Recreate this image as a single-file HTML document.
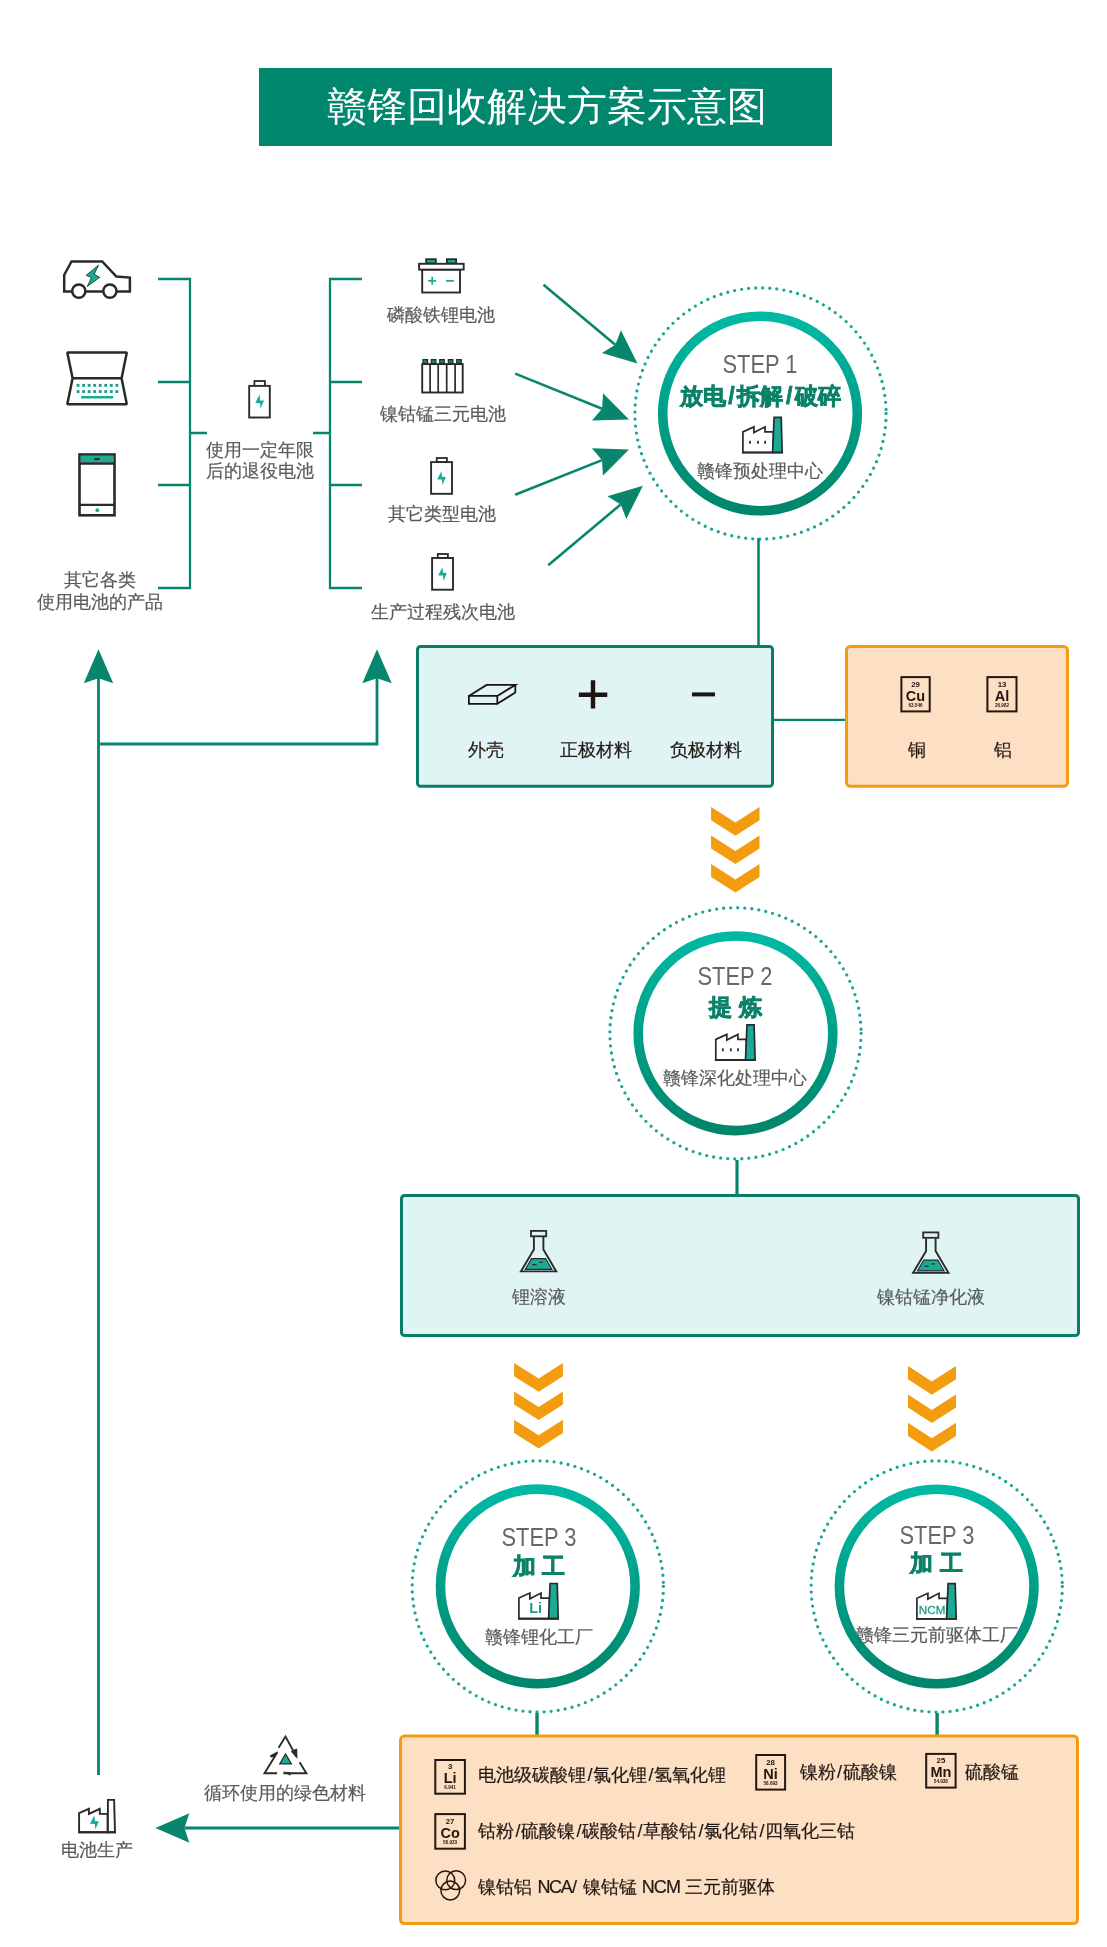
<!DOCTYPE html>
<html><head><meta charset="utf-8"><style>
html,body{margin:0;padding:0;background:#fff;}
#c{position:relative;width:1107px;height:1947px;overflow:hidden;background:#fff;font-family:"Liberation Sans",sans-serif;}
#c svg{position:absolute;left:0;top:0;}
.t{position:absolute;white-space:nowrap;}
#tx{position:absolute;left:0;top:0;width:1107px;height:1947px;will-change:transform;}
</style></head><body><div id="c">
<svg width="1107" height="1947" viewBox="0 0 1107 1947">
<rect x="259" y="68" width="573" height="78" fill="#00876d"/>
<path d="M158,279 H190 V588 H158 M190,382 H158 M190,485 H158 M190,433 H207" fill="none" stroke="#07866d" stroke-width="2.3"/>
<path d="M362,279 H330 V588 H362 M330,382 H362 M330,485 H362 M330,433 H313" fill="none" stroke="#07866d" stroke-width="2.3"/>
<line x1="543.5" y1="284.7" x2="615.26" y2="344.78" stroke="#07866d" stroke-width="2.6"/>
<path d="M637.50,363.40 L601.96,352.88 L615.26,344.78 L620.90,330.26 Z" fill="#07866d"/>
<line x1="515.2" y1="373.6" x2="602.11" y2="408.73" stroke="#07866d" stroke-width="2.6"/>
<path d="M629.00,419.60 L591.95,420.53 L602.11,408.73 L603.01,393.18 Z" fill="#07866d"/>
<line x1="515.2" y1="494.8" x2="602.06" y2="460.15" stroke="#07866d" stroke-width="2.6"/>
<path d="M629.00,449.40 L602.89,475.70 L602.06,460.15 L591.95,448.30 Z" fill="#07866d"/>
<line x1="548.2" y1="565.3" x2="620.69" y2="504.45" stroke="#07866d" stroke-width="2.6"/>
<path d="M642.90,485.80 L626.34,518.96 L620.69,504.45 L607.38,496.36 Z" fill="#07866d"/>
<path d="M98.5,1775 V675 M98.5,744 H377 V675" fill="none" stroke="#07866d" stroke-width="2.8"/>
<path d="M98.50,649.20 L113.25,683.20 L98.50,678.20 L83.75,683.20 Z" fill="#07866d"/>
<path d="M377.00,649.20 L391.75,683.20 L377.00,678.20 L362.25,683.20 Z" fill="#07866d"/>
<line x1="399" y1="1828" x2="184.40" y2="1828.00" stroke="#07866d" stroke-width="3"/>
<path d="M155.40,1828.00 L189.40,1813.25 L184.40,1828.00 L189.40,1842.75 Z" fill="#07866d"/>
<defs><linearGradient id="g1" x1="0" y1="0" x2="0" y2="1"><stop offset="0" stop-color="#00b9a4"/><stop offset="1" stop-color="#00866b"/></linearGradient></defs>
<circle cx="760.5" cy="413.5" r="125.6" fill="none" stroke="#1ca697" stroke-width="3.3" stroke-linecap="round" stroke-dasharray="0 7.07"/>
<circle cx="760" cy="413.5" r="97.3" fill="none" stroke="url(#g1)" stroke-width="9.6"/>
<defs><linearGradient id="g2" x1="0" y1="0" x2="0" y2="1"><stop offset="0" stop-color="#00b9a4"/><stop offset="1" stop-color="#00866b"/></linearGradient></defs>
<circle cx="735.5" cy="1033.3" r="125.6" fill="none" stroke="#1ca697" stroke-width="3.3" stroke-linecap="round" stroke-dasharray="0 7.07"/>
<circle cx="735.5" cy="1033.3" r="97.3" fill="none" stroke="url(#g2)" stroke-width="9.6"/>
<defs><linearGradient id="g3" x1="0" y1="0" x2="0" y2="1"><stop offset="0" stop-color="#00b9a4"/><stop offset="1" stop-color="#00866b"/></linearGradient></defs>
<circle cx="537.8" cy="1586.4" r="125.6" fill="none" stroke="#1ca697" stroke-width="3.3" stroke-linecap="round" stroke-dasharray="0 7.07"/>
<circle cx="537.8" cy="1586.4" r="97.3" fill="none" stroke="url(#g3)" stroke-width="9.6"/>
<defs><linearGradient id="g4" x1="0" y1="0" x2="0" y2="1"><stop offset="0" stop-color="#00b9a4"/><stop offset="1" stop-color="#00866b"/></linearGradient></defs>
<circle cx="936.7" cy="1586.5" r="125.6" fill="none" stroke="#1ca697" stroke-width="3.3" stroke-linecap="round" stroke-dasharray="0 7.07"/>
<circle cx="936.7" cy="1586.5" r="97.3" fill="none" stroke="url(#g4)" stroke-width="9.6"/>
<line x1="758.5" y1="538" x2="758.5" y2="646" stroke="#07866d" stroke-width="2.6"/>
<line x1="737" y1="1160" x2="737" y2="1195" stroke="#07866d" stroke-width="3.2"/>
<line x1="537" y1="1713" x2="537" y2="1736" stroke="#07866d" stroke-width="3.4"/>
<line x1="937.1" y1="1713" x2="937.1" y2="1736" stroke="#07866d" stroke-width="3.4"/>
<line x1="774" y1="719.8" x2="845" y2="719.8" stroke="#07866d" stroke-width="2.3"/>
<rect x="417.5" y="646.5" width="355" height="139.79999999999995" rx="3" fill="#e0f5f3" stroke="#0b7d66" stroke-width="3"/>
<rect x="846.5" y="646.5" width="221" height="139.79999999999995" rx="4" fill="#fde0c3" stroke="#f39c0f" stroke-width="3"/>
<rect x="401.5" y="1195.5" width="677" height="140" rx="3" fill="#e0f5f3" stroke="#0b7d66" stroke-width="3"/>
<rect x="400.5" y="1736.0" width="677" height="187.5" rx="4" fill="#fde0c3" stroke="#f39c0f" stroke-width="3"/>
<path d="M711.1,807 L735.4,822.5 L759.5,807 V820.2 L735.4,835.7 L711.1,820.2 Z" fill="#f39c0f"/>
<path d="M711.1,835.4 L735.4,850.9 L759.5,835.4 V848.6 L735.4,864.1 L711.1,848.6 Z" fill="#f39c0f"/>
<path d="M711.1,863.9 L735.4,879.4 L759.5,863.9 V877.1 L735.4,892.6 L711.1,877.1 Z" fill="#f39c0f"/>
<path d="M514.1,1363 L538.7,1378.5 L562.9,1363 V1376.2 L538.7,1391.7 L514.1,1376.2 Z" fill="#f39c0f"/>
<path d="M514.1,1391.4 L538.7,1406.9 L562.9,1391.4 V1404.6000000000001 L538.7,1420.1000000000001 L514.1,1404.6000000000001 Z" fill="#f39c0f"/>
<path d="M514.1,1419.8 L538.7,1435.3 L562.9,1419.8 V1433.0 L538.7,1448.5 L514.1,1433.0 Z" fill="#f39c0f"/>
<path d="M908,1366 L931.8,1381.5 L956,1366 V1379.2 L931.8,1394.7 L908,1379.2 Z" fill="#f39c0f"/>
<path d="M908,1394.4 L931.8,1409.9 L956,1394.4 V1407.6000000000001 L931.8,1423.1000000000001 L908,1407.6000000000001 Z" fill="#f39c0f"/>
<path d="M908,1422.8 L931.8,1438.3 L956,1422.8 V1436.0 L931.8,1451.5 L908,1436.0 Z" fill="#f39c0f"/>
<path d="M64.2,291.5 V275 L71.5,261.5 H102.2 L116.4,276.5 L129.9,277.6 V291.5 Z" fill="none" stroke="#2a2a2a" stroke-linejoin="miter" stroke-width="2.5"/>
<circle cx="78.8" cy="291.1" r="6.6" fill="#fff" stroke="#2a2a2a" stroke-width="2.5"/>
<circle cx="109.9" cy="291.1" r="6.6" fill="#fff" stroke="#2a2a2a" stroke-width="2.5"/>
<path d="M98.5,265.2 L86.2,275.3 L91.5,277.6 L87.3,286.5 L99.7,277.3 L94.1,274.4 Z" fill="#1aab97" stroke="#123f3a" stroke-width="0.9" stroke-linejoin="miter"/>
<path d="M67.3,352.4 H126.8 L121.6,378.3 L126.8,404.2 H67.3 L72.6,378.3 Z M72.6,378.3 H121.6" fill="none" stroke="#2a2a2a" stroke-linejoin="bevel" stroke-width="2.5"/>
<rect x="76.60" y="383.90000000000003" width="2.9" height="2.9" fill="#1f9e8f"/>
<rect x="82.14" y="383.90000000000003" width="2.9" height="2.9" fill="#1f9e8f"/>
<rect x="87.68" y="383.90000000000003" width="2.9" height="2.9" fill="#1f9e8f"/>
<rect x="93.22" y="383.90000000000003" width="2.9" height="2.9" fill="#1f9e8f"/>
<rect x="98.76" y="383.90000000000003" width="2.9" height="2.9" fill="#1f9e8f"/>
<rect x="104.30" y="383.90000000000003" width="2.9" height="2.9" fill="#1f9e8f"/>
<rect x="109.84" y="383.90000000000003" width="2.9" height="2.9" fill="#1f9e8f"/>
<rect x="115.38" y="383.90000000000003" width="2.9" height="2.9" fill="#1f9e8f"/>
<rect x="76.60" y="390.1" width="2.9" height="2.9" fill="#1f9e8f"/>
<rect x="82.14" y="390.1" width="2.9" height="2.9" fill="#1f9e8f"/>
<rect x="87.68" y="390.1" width="2.9" height="2.9" fill="#1f9e8f"/>
<rect x="93.22" y="390.1" width="2.9" height="2.9" fill="#1f9e8f"/>
<rect x="98.76" y="390.1" width="2.9" height="2.9" fill="#1f9e8f"/>
<rect x="104.30" y="390.1" width="2.9" height="2.9" fill="#1f9e8f"/>
<rect x="109.84" y="390.1" width="2.9" height="2.9" fill="#1f9e8f"/>
<rect x="115.38" y="390.1" width="2.9" height="2.9" fill="#1f9e8f"/>
<rect x="81.1" y="396" width="32" height="2.5" fill="#1aab97"/>
<rect x="79.5" y="454.5" width="35" height="60.8" fill="none" stroke="#2a2a2a" stroke-linejoin="miter" stroke-width="2.6"/>
<rect x="80.8" y="455.9" width="32.6" height="6.6" fill="#1aab97"/>
<line x1="80" y1="463.5" x2="114" y2="463.5" stroke="#2a2a2a" stroke-width="2.4"/>
<line x1="80" y1="504.9" x2="114" y2="504.9" stroke="#2a2a2a" stroke-width="2.4"/>
<rect x="94.4" y="457.9" width="5.2" height="2.2" fill="#2a2a2a"/>
<circle cx="97.3" cy="510.2" r="1.9" fill="#1aab97"/>
<rect x="254.4" y="381" width="10.499999999999972" height="4.899999999999977" fill="none" stroke="#2a2a2a" stroke-linejoin="miter" stroke-width="1.8"/>
<rect x="249.2" y="385.9" width="20.600000000000023" height="31.600000000000023" fill="#fff" stroke="#2a2a2a" stroke-width="1.9"/>
<path d="M259.60,394.60 L260.05,400.40 L264.00,400.50 L260.50,408.60 L260.05,403.20 L255.30,403.10 Z" fill="#1aab97"/>
<rect x="436.8" y="458" width="10.099999999999966" height="4.100000000000023" fill="none" stroke="#2a2a2a" stroke-linejoin="miter" stroke-width="1.8"/>
<rect x="431.1" y="462.1" width="20.899999999999977" height="31.69999999999999" fill="#fff" stroke="#2a2a2a" stroke-width="1.9"/>
<path d="M441.50,471.00 L441.95,476.80 L445.90,476.90 L442.40,485.00 L441.95,479.60 L437.20,479.50 Z" fill="#1aab97"/>
<rect x="437.8" y="554" width="10.099999999999966" height="4" fill="none" stroke="#2a2a2a" stroke-linejoin="miter" stroke-width="1.8"/>
<rect x="432.1" y="558" width="20.899999999999977" height="31.700000000000045" fill="#fff" stroke="#2a2a2a" stroke-width="1.9"/>
<path d="M442.50,567.00 L442.95,572.80 L446.90,572.90 L443.40,581.00 L442.95,575.60 L438.20,575.50 Z" fill="#1aab97"/>
<rect x="426.2" y="259.2" width="9.6" height="4.3" fill="#1aab97" stroke="#2a2a2a" stroke-width="1.8"/>
<rect x="446.9" y="259.2" width="9.2" height="4.3" fill="#1aab97" stroke="#2a2a2a" stroke-width="1.8"/>
<rect x="422.2" y="269.6" width="37.8" height="22.9" fill="#fff" stroke="#2a2a2a" stroke-width="1.9"/>
<rect x="419.1" y="263.8" width="44.6" height="5.8" fill="#fff" stroke="#2a2a2a" stroke-width="1.9"/>
<path d="M428.2,280.8 H436.2 M432.2,276.8 V284.8 M446,280.8 H453.9" stroke="#1aab97" stroke-width="1.7"/>
<rect x="423.0" y="359.6" width="4.6" height="3.8" fill="#1e7f70" stroke="#2a2a2a" stroke-width="1.2"/>
<rect x="431.3" y="359.6" width="4.6" height="3.8" fill="#1e7f70" stroke="#2a2a2a" stroke-width="1.2"/>
<rect x="439.7" y="359.6" width="4.6" height="3.8" fill="#1e7f70" stroke="#2a2a2a" stroke-width="1.2"/>
<rect x="448.3" y="359.6" width="4.6" height="3.8" fill="#1e7f70" stroke="#2a2a2a" stroke-width="1.2"/>
<rect x="456.7" y="359.6" width="4.6" height="3.8" fill="#1e7f70" stroke="#2a2a2a" stroke-width="1.2"/>
<rect x="422.2" y="364.1" width="40.5" height="28.4" fill="#fff" stroke="#2a2a2a" stroke-width="1.9"/>
<line x1="430.1" y1="364" x2="430.1" y2="392.5" stroke="#2a2a2a" stroke-width="1.7"/>
<line x1="438.2" y1="364" x2="438.2" y2="392.5" stroke="#2a2a2a" stroke-width="1.7"/>
<line x1="446.7" y1="364" x2="446.7" y2="392.5" stroke="#2a2a2a" stroke-width="1.7"/>
<line x1="455.1" y1="364" x2="455.1" y2="392.5" stroke="#2a2a2a" stroke-width="1.7"/>
<path d="M742.90,452.50 L742.90,431.90 L753.90,426.90 L753.90,432.60 L765.00,426.90 L765.00,431.90 L773.50,431.90 L773.50,452.50 Z" fill="#fff" stroke="#2a2a2a" stroke-width="1.7"/>
<path d="M772.60,452.50 L774.10,417.30 H781.20 L782.20,452.50 Z" fill="#1aab97" stroke="#2a2a2a" stroke-width="1.7"/>
<line x1="742.00" y1="452.50" x2="783.00" y2="452.50" stroke="#2a2a2a" stroke-width="1.9"/>
<rect x="749.1" y="440.8" width="1.7" height="3" fill="#2a2a2a"/>
<rect x="757.1" y="440.8" width="1.7" height="3" fill="#2a2a2a"/>
<rect x="764.3000000000001" y="440.8" width="1.7" height="3" fill="#2a2a2a"/>
<path d="M715.80,1060.00 L715.80,1039.40 L726.80,1034.40 L726.80,1040.10 L737.90,1034.40 L737.90,1039.40 L746.40,1039.40 L746.40,1060.00 Z" fill="#fff" stroke="#2a2a2a" stroke-width="1.7"/>
<path d="M745.50,1060.00 L747.00,1024.80 H754.10 L755.10,1060.00 Z" fill="#1aab97" stroke="#2a2a2a" stroke-width="1.7"/>
<line x1="714.90" y1="1060.00" x2="755.90" y2="1060.00" stroke="#2a2a2a" stroke-width="1.9"/>
<rect x="722.00" y="1048.30" width="1.7" height="3" fill="#2a2a2a"/>
<rect x="730.00" y="1048.30" width="1.7" height="3" fill="#2a2a2a"/>
<rect x="737.20" y="1048.30" width="1.7" height="3" fill="#2a2a2a"/>
<path d="M518.90,1618.70 L518.90,1598.10 L529.90,1593.10 L529.90,1598.80 L541.00,1593.10 L541.00,1598.10 L549.50,1598.10 L549.50,1618.70 Z" fill="#fff" stroke="#2a2a2a" stroke-width="1.7"/>
<path d="M548.60,1618.70 L550.10,1583.50 H557.20 L558.20,1618.70 Z" fill="#1aab97" stroke="#2a2a2a" stroke-width="1.7"/>
<line x1="518.00" y1="1618.70" x2="559.00" y2="1618.70" stroke="#2a2a2a" stroke-width="1.9"/>
<path d="M916.90,1618.90 L916.90,1598.30 L927.90,1593.30 L927.90,1599.00 L939.00,1593.30 L939.00,1598.30 L947.50,1598.30 L947.50,1618.90 Z" fill="#fff" stroke="#2a2a2a" stroke-width="1.7"/>
<path d="M946.60,1618.90 L948.10,1583.70 H955.20 L956.20,1618.90 Z" fill="#1aab97" stroke="#2a2a2a" stroke-width="1.7"/>
<line x1="916.00" y1="1618.90" x2="957.00" y2="1618.90" stroke="#2a2a2a" stroke-width="1.9"/>
<path d="M79.1,1832.2 V1813.2 L88.9,1808.8 V1813.9 L99.8,1808.8 V1813.9 H107.6 V1832.2 Z" fill="#fff" stroke="#2a2a2a" stroke-width="1.9"/>
<path d="M107.9,1832.2 V1799.9 H114.1 L115.0,1832.2 Z" fill="#fff" stroke="#2a2a2a" stroke-width="1.9"/>
<line x1="78.2" y1="1832.2" x2="116" y2="1832.2" stroke="#2a2a2a" stroke-width="2"/>
<path d="M94.40,1815.20 L94.86,1821.12 L98.89,1821.22 L95.32,1829.48 L94.86,1823.97 L90.01,1823.87 Z" fill="#1aab97"/>
<path d="M468.9,695.9 H497.3 V703.8 H468.9 Z M468.9,695.9 L486.6,684.9 H515.3 L497.3,695.9 M515.3,684.9 V692.5 L497.3,703.8" fill="none" stroke="#1a1311" stroke-width="1.8" stroke-linejoin="miter"/>
<path d="M578.8,694.7 H607.3 M593,680.2 V708.6" stroke="#1e1513" stroke-width="4.4"/>
<path d="M692,694.4 H715" stroke="#1e1513" stroke-width="4"/>
<rect x="901.4" y="677.1" width="28.300000000000068" height="34.299999999999955" fill="none" stroke="#241610" stroke-width="2"/>
<rect x="987.4" y="677.1" width="29.100000000000023" height="34.299999999999955" fill="none" stroke="#241610" stroke-width="2"/>
<rect x="435.3" y="1760" width="29.599999999999966" height="33.700000000000045" fill="none" stroke="#241610" stroke-width="2"/>
<rect x="435.3" y="1814.1" width="29.599999999999966" height="34.600000000000136" fill="none" stroke="#241610" stroke-width="2"/>
<rect x="756.2" y="1755" width="28.899999999999977" height="34.59999999999991" fill="none" stroke="#241610" stroke-width="2"/>
<rect x="926.2" y="1753.9" width="29.399999999999977" height="33.69999999999982" fill="none" stroke="#241610" stroke-width="2"/>
<circle cx="445.3" cy="1880.4" r="9.4" fill="none" stroke="#241610" stroke-width="1.5"/>
<circle cx="456.2" cy="1880.2" r="9.4" fill="none" stroke="#241610" stroke-width="1.5"/>
<circle cx="450.3" cy="1890.5" r="9.4" fill="none" stroke="#241610" stroke-width="1.5"/>
<rect x="531.00" y="1230.90" width="15.2" height="5.4" fill="none" stroke="#2a2a2a" stroke-width="1.8"/>
<path d="M533.90,1237.00 V1249.50 L520.90,1271.40 H556.30 L543.40,1249.50 V1237.00" fill="none" stroke="#2a2a2a" stroke-width="1.9"/>
<path d="M531.60,1258.60 H545.60 L552.00,1269.40 H525.20 Z" fill="#1aab97" stroke="#2a2a2a" stroke-width="1.1"/>
<path d="M532.20,1264.70 H536.60 M539.20,1262.40 H542.60" stroke="#2a2a2a" stroke-width="1.2"/>
<rect x="923.20" y="1232.40" width="15.2" height="5.4" fill="none" stroke="#2a2a2a" stroke-width="1.8"/>
<path d="M926.10,1238.50 V1251.00 L913.10,1272.90 H948.50 L935.60,1251.00 V1238.50" fill="none" stroke="#2a2a2a" stroke-width="1.9"/>
<path d="M923.80,1260.10 H937.80 L944.20,1270.90 H917.40 Z" fill="#1aab97" stroke="#2a2a2a" stroke-width="1.1"/>
<path d="M924.40,1266.20 H928.80 M931.40,1263.90 H934.80" stroke="#2a2a2a" stroke-width="1.2"/>
<path d="M278.6,1747.8 L285.5,1736.6 L296.5,1756.8" fill="none" stroke="#2a2a2a" stroke-width="1.9"/>
<path d="M295.9,1748.8 L297.2,1748.8 L297.4,1758.8 L290.8,1751.6 Z" fill="#2a2a2a"/>
<path d="M299.6,1762.3 L306.4,1773.3 H283.3" fill="none" stroke="#2a2a2a" stroke-width="1.9"/>
<path d="M282.8,1771.6 L290.9,1772.4 L290.2,1775.8 Z" fill="#2a2a2a"/>
<path d="M277.1,1773.2 H264.5 L277.4,1752.3" fill="none" stroke="#2a2a2a" stroke-width="1.9"/>
<path d="M278.0,1751.2 L269.8,1755.6 L270.9,1757.6 L274.8,1757.0 Z" fill="#2a2a2a"/>
<path d="M285.5,1754.0 L279.8,1763.9 H291.4 Z" fill="#1aab97" stroke="#2a2a2a" stroke-width="1.3"/>
</svg>
<div id="tx"><div class="t" style="top:86.9px;font-size:40.2px;line-height:40.2px;color:#fff;font-weight:normal;left:247.0px;width:600px;text-align:center;">赣锋回收解决方案示意图</div>
<div class="t" style="top:570.7px;font-size:18px;line-height:18px;color:#585c5d;font-weight:normal;-webkit-text-stroke:0.2px #585c5d;left:-199.7px;width:600px;text-align:center;">其它各类</div>
<div class="t" style="top:593.2px;font-size:18px;line-height:18px;color:#585c5d;font-weight:normal;-webkit-text-stroke:0.2px #585c5d;left:-199.8px;width:600px;text-align:center;">使用电池的产品</div>
<div class="t" style="top:441.0px;font-size:18px;line-height:18px;color:#585c5d;font-weight:normal;-webkit-text-stroke:0.2px #585c5d;left:-40.19999999999999px;width:600px;text-align:center;">使用一定年限</div>
<div class="t" style="top:461.7px;font-size:18px;line-height:18px;color:#585c5d;font-weight:normal;-webkit-text-stroke:0.2px #585c5d;left:-40.19999999999999px;width:600px;text-align:center;">后的退役电池</div>
<div class="t" style="top:305.9px;font-size:18px;line-height:18px;color:#585c5d;font-weight:normal;-webkit-text-stroke:0.2px #585c5d;left:141px;width:600px;text-align:center;">磷酸铁锂电池</div>
<div class="t" style="top:404.7px;font-size:18px;line-height:18px;color:#585c5d;font-weight:normal;-webkit-text-stroke:0.2px #585c5d;left:142.89999999999998px;width:600px;text-align:center;">镍钴锰三元电池</div>
<div class="t" style="top:504.7px;font-size:18px;line-height:18px;color:#585c5d;font-weight:normal;-webkit-text-stroke:0.2px #585c5d;left:141.8px;width:600px;text-align:center;">其它类型电池</div>
<div class="t" style="top:602.7px;font-size:18px;line-height:18px;color:#585c5d;font-weight:normal;-webkit-text-stroke:0.2px #585c5d;left:142.5px;width:600px;text-align:center;">生产过程残次电池</div>
<div class="t" style="top:352.59999999999997px;font-size:22.5px;line-height:22.5px;color:#676767;font-weight:normal;left:460.29999999999995px;width:600px;text-align:center;transform:scale(0.973,1.11);transform-origin:50% 0;">STEP 1</div>
<div class="t" style="top:384.9px;font-size:23px;line-height:23px;color:#0b8268;font-weight:bold;left:460.29999999999995px;width:600px;text-align:center;-webkit-text-stroke:0.75px #0b8268;">放电<span style="margin:0 2.7px">/</span>拆解<span style="margin:0 2.7px">/</span>破碎</div>
<div class="t" style="top:462.3px;font-size:18px;line-height:18px;color:#585c5d;font-weight:normal;-webkit-text-stroke:0.2px #585c5d;left:460.29999999999995px;width:600px;text-align:center;">赣锋预处理中心</div>
<div class="t" style="top:965.3000000000001px;font-size:22.5px;line-height:22.5px;color:#676767;font-weight:normal;left:435.4px;width:600px;text-align:center;transform:scale(0.973,1.11);transform-origin:50% 0;">STEP 2</div>
<div class="t" style="top:996.4000000000001px;font-size:23px;line-height:23px;color:#0b8268;font-weight:bold;left:435.4px;width:600px;text-align:center;-webkit-text-stroke:0.75px #0b8268;">提 炼</div>
<div class="t" style="top:1069.1000000000001px;font-size:18px;line-height:18px;color:#585c5d;font-weight:normal;-webkit-text-stroke:0.2px #585c5d;left:435.4px;width:600px;text-align:center;">赣锋深化处理中心</div>
<div class="t" style="top:1526.1000000000001px;font-size:22.5px;line-height:22.5px;color:#676767;font-weight:normal;left:239.10000000000002px;width:600px;text-align:center;transform:scale(0.973,1.11);transform-origin:50% 0;">STEP 3</div>
<div class="t" style="top:1555.4px;font-size:23px;line-height:23px;color:#0b8268;font-weight:bold;left:239.10000000000002px;width:600px;text-align:center;-webkit-text-stroke:0.75px #0b8268;">加 工</div>
<div class="t" style="top:1628.3px;font-size:18px;line-height:18px;color:#585c5d;font-weight:normal;-webkit-text-stroke:0.2px #585c5d;left:239.10000000000002px;width:600px;text-align:center;">赣锋锂化工厂</div>
<div class="t" style="top:1523.6000000000001px;font-size:22.5px;line-height:22.5px;color:#676767;font-weight:normal;left:636.5px;width:600px;text-align:center;transform:scale(0.973,1.11);transform-origin:50% 0;">STEP 3</div>
<div class="t" style="top:1552.1000000000001px;font-size:23px;line-height:23px;color:#0b8268;font-weight:bold;left:636.5px;width:600px;text-align:center;-webkit-text-stroke:0.75px #0b8268;">加 工</div>
<div class="t" style="top:1625.7px;font-size:18px;line-height:18px;color:#585c5d;font-weight:normal;-webkit-text-stroke:0.2px #585c5d;left:636.5px;width:600px;text-align:center;">赣锋三元前驱体工厂</div>
<div class="t" style="top:740.7px;font-size:18px;line-height:18px;color:#231815;font-weight:normal;-webkit-text-stroke:0.2px #231815;left:186.39999999999998px;width:600px;text-align:center;">外壳</div>
<div class="t" style="top:740.7px;font-size:18px;line-height:18px;color:#231815;font-weight:normal;-webkit-text-stroke:0.2px #231815;left:295.5px;width:600px;text-align:center;">正极材料</div>
<div class="t" style="top:740.7px;font-size:18px;line-height:18px;color:#231815;font-weight:normal;-webkit-text-stroke:0.2px #231815;left:405.79999999999995px;width:600px;text-align:center;">负极材料</div>
<div class="t" style="top:740.7px;font-size:18px;line-height:18px;color:#231815;font-weight:normal;-webkit-text-stroke:0.2px #231815;left:617.1px;width:600px;text-align:center;">铜</div>
<div class="t" style="top:740.7px;font-size:18px;line-height:18px;color:#231815;font-weight:normal;-webkit-text-stroke:0.2px #231815;left:703.2px;width:600px;text-align:center;">铝</div>
<div class="t" style="top:1287.7px;font-size:18px;line-height:18px;color:#585c5d;font-weight:normal;-webkit-text-stroke:0.2px #585c5d;left:238.79999999999995px;width:600px;text-align:center;">锂溶液</div>
<div class="t" style="top:1287.7px;font-size:18px;line-height:18px;color:#585c5d;font-weight:normal;-webkit-text-stroke:0.2px #585c5d;left:630.8px;width:600px;text-align:center;">镍钴锰净化液</div>
<div class="t" style="top:1765.7px;font-size:18px;line-height:18px;color:#231815;font-weight:normal;-webkit-text-stroke:0.2px #231815;left:478.4px;">电池级碳酸锂<span style="margin:0 1px">/</span>氯化锂<span style="margin:0 1px">/</span>氢氧化锂</div>
<div class="t" style="top:1762.7px;font-size:18px;line-height:18px;color:#231815;font-weight:normal;-webkit-text-stroke:0.2px #231815;left:799.9px;">镍粉<span style="margin:0 1px">/</span>硫酸镍</div>
<div class="t" style="top:1762.7px;font-size:18px;line-height:18px;color:#231815;font-weight:normal;-webkit-text-stroke:0.2px #231815;left:965.1px;">硫酸锰</div>
<div class="t" style="top:1822.0px;font-size:18px;line-height:18px;color:#231815;font-weight:normal;-webkit-text-stroke:0.2px #231815;left:478.4px;">钴粉<span style="margin:0 1px">/</span>硫酸镍<span style="margin:0 1px">/</span>碳酸钴<span style="margin:0 1px">/</span>草酸钴<span style="margin:0 1px">/</span>氯化钴<span style="margin:0 1px">/</span>四氧化三钴</div>
<div class="t" style="top:1877.9px;font-size:18px;line-height:18px;color:#231815;font-weight:normal;-webkit-text-stroke:0.2px #231815;left:478.4px;">镍钴铝 <span style="letter-spacing:-1.3px">NCA</span><span style="margin:0 0.6px">/</span> 镍钴锰 <span style="letter-spacing:-0.9px">NCM</span> 三元前驱体</div>
<div class="t" style="top:1840.7px;font-size:18px;line-height:18px;color:#585c5d;font-weight:normal;-webkit-text-stroke:0.2px #585c5d;left:-203px;width:600px;text-align:center;">电池生产</div>
<div class="t" style="top:1783.9px;font-size:18px;line-height:18px;color:#585c5d;font-weight:normal;-webkit-text-stroke:0.2px #585c5d;left:-14.600000000000023px;width:600px;text-align:center;">循环使用的绿色材料</div>
<div class="t" style="top:680.7px;font-size:7.8px;line-height:7.8px;color:#241610;font-weight:bold;left:615.5px;width:600px;text-align:center;">29</div>
<div class="t" style="top:688.7px;font-size:14.5px;line-height:14.5px;color:#241610;font-weight:bold;left:615.5px;width:600px;text-align:center;">Cu</div>
<div class="t" style="top:704.2px;font-size:4.6px;line-height:4.6px;color:#241610;font-weight:bold;left:615.5px;width:600px;text-align:center;">63.546</div>
<div class="t" style="top:680.7px;font-size:7.8px;line-height:7.8px;color:#241610;font-weight:bold;left:702px;width:600px;text-align:center;">13</div>
<div class="t" style="top:688.7px;font-size:14.5px;line-height:14.5px;color:#241610;font-weight:bold;left:702px;width:600px;text-align:center;">Al</div>
<div class="t" style="top:704.2px;font-size:4.6px;line-height:4.6px;color:#241610;font-weight:bold;left:702px;width:600px;text-align:center;">26.982</div>
<div class="t" style="top:1763.2px;font-size:7.8px;line-height:7.8px;color:#241610;font-weight:bold;left:150.10000000000002px;width:600px;text-align:center;">3</div>
<div class="t" style="top:1771.2px;font-size:14.5px;line-height:14.5px;color:#241610;font-weight:bold;left:150.10000000000002px;width:600px;text-align:center;">Li</div>
<div class="t" style="top:1786.2px;font-size:4.6px;line-height:4.6px;color:#241610;font-weight:bold;left:150.10000000000002px;width:600px;text-align:center;">6.941</div>
<div class="t" style="top:1818.2px;font-size:7.8px;line-height:7.8px;color:#241610;font-weight:bold;left:150.10000000000002px;width:600px;text-align:center;">27</div>
<div class="t" style="top:1826.2px;font-size:14.5px;line-height:14.5px;color:#241610;font-weight:bold;left:150.10000000000002px;width:600px;text-align:center;">Co</div>
<div class="t" style="top:1841.2px;font-size:4.6px;line-height:4.6px;color:#241610;font-weight:bold;left:150.10000000000002px;width:600px;text-align:center;">58.933</div>
<div class="t" style="top:1759.2px;font-size:7.8px;line-height:7.8px;color:#241610;font-weight:bold;left:470.6px;width:600px;text-align:center;">28</div>
<div class="t" style="top:1766.7px;font-size:14.5px;line-height:14.5px;color:#241610;font-weight:bold;left:470.6px;width:600px;text-align:center;">Ni</div>
<div class="t" style="top:1782.2px;font-size:4.6px;line-height:4.6px;color:#241610;font-weight:bold;left:470.6px;width:600px;text-align:center;">58.693</div>
<div class="t" style="top:1757.2px;font-size:7.8px;line-height:7.8px;color:#241610;font-weight:bold;left:640.9px;width:600px;text-align:center;">25</div>
<div class="t" style="top:1765.2px;font-size:14.5px;line-height:14.5px;color:#241610;font-weight:bold;left:640.9px;width:600px;text-align:center;">Mn</div>
<div class="t" style="top:1780.2px;font-size:4.6px;line-height:4.6px;color:#241610;font-weight:bold;left:640.9px;width:600px;text-align:center;">54.938</div>
<div class="t" style="top:1601.2px;font-size:14.5px;line-height:14.5px;color:#1a9e8c;font-weight:bold;left:235.60000000000002px;width:600px;text-align:center;">Li</div>
<div class="t" style="top:1603.9px;font-size:11.6px;line-height:11.6px;color:#17a08d;font-weight:normal;letter-spacing:0.1px;left:632.2px;width:600px;text-align:center;-webkit-text-stroke:0.3px #17a08d;">NCM</div></div>
</div></body></html>
